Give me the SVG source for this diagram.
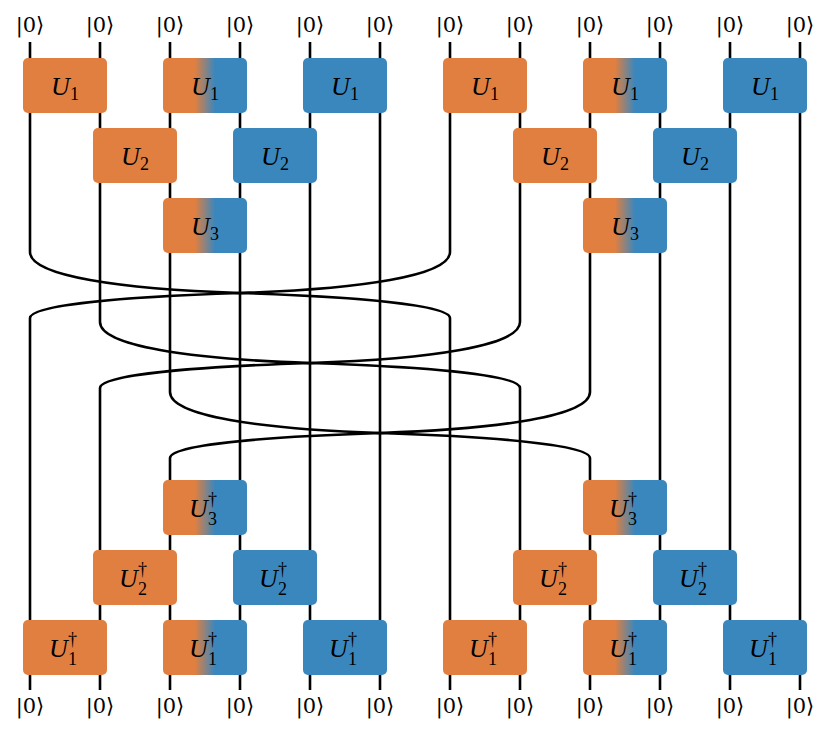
<svg xmlns="http://www.w3.org/2000/svg" width="831" height="735" viewBox="0 0 831 735">
<defs>
<linearGradient id="g" x1="0" x2="1" y1="0" y2="0"><stop offset="0.38" stop-color="#E07F40"/><stop offset="0.62" stop-color="#3A87BE"/></linearGradient>
<style>
.w{stroke:#000;stroke-width:2.6;fill:none}
.o{fill:#E07F40}.b{fill:#3A87BE}.m{fill:url(#g)}
.l{font-family:'Liberation Serif','DejaVu Serif',serif;font-style:italic;font-size:26px;text-anchor:middle}
.s{font-style:normal;font-size:18px}
.k{font-family:'DejaVu Serif',serif;font-size:21px;text-anchor:middle}
</style>
</defs>
<rect width="831" height="735" fill="#fff"/>
<g id="connectors">
<path class="w" d="M30,42V252C30,276 120,289 240,293C360,289 450,276 450,252V42"/>
<path class="w" d="M30,690V318C30,305 120,297 240,293C360,297 450,305 450,318V690"/>
<path class="w" d="M100,42V322C100,346 190,359 310,363C430,359 520,346 520,322V42"/>
<path class="w" d="M100,690V388C100,375 190,367 310,363C430,367 520,375 520,388V690"/>
<path class="w" d="M170,42V392C170,416 260,429 380,433C500,429 590,416 590,392V42"/>
<path class="w" d="M170,690V458C170,445 260,437 380,433C500,437 590,445 590,458V690"/>
<path class="w" d="M240,42V690M310,42V690M380,42V690M660,42V690M730,42V690M800,42V690"/>
</g>
<g id="labels">
<text class="k" x="30" y="32">|0⟩</text><text class="k" x="100" y="32">|0⟩</text><text class="k" x="170" y="32">|0⟩</text><text class="k" x="240" y="32">|0⟩</text><text class="k" x="310" y="32">|0⟩</text><text class="k" x="380" y="32">|0⟩</text><text class="k" x="450" y="32">|0⟩</text><text class="k" x="520" y="32">|0⟩</text><text class="k" x="590" y="32">|0⟩</text><text class="k" x="660" y="32">|0⟩</text><text class="k" x="730" y="32">|0⟩</text><text class="k" x="800" y="32">|0⟩</text>
<text class="k" x="30" y="713">|0⟩</text><text class="k" x="100" y="713">|0⟩</text><text class="k" x="170" y="713">|0⟩</text><text class="k" x="240" y="713">|0⟩</text><text class="k" x="310" y="713">|0⟩</text><text class="k" x="380" y="713">|0⟩</text><text class="k" x="450" y="713">|0⟩</text><text class="k" x="520" y="713">|0⟩</text><text class="k" x="590" y="713">|0⟩</text><text class="k" x="660" y="713">|0⟩</text><text class="k" x="730" y="713">|0⟩</text><text class="k" x="800" y="713">|0⟩</text>
</g>
<g id="g1a"><rect class="o" x="23" y="58" width="84" height="55" rx="5"/><text class="l" x="65" y="95">U<tspan class="s" dy="5">1</tspan></text></g>
<g id="g1b"><rect class="m" x="163" y="58" width="84" height="55" rx="5"/><text class="l" x="205" y="95">U<tspan class="s" dy="5">1</tspan></text></g>
<g id="g1c"><rect class="b" x="303" y="58" width="84" height="55" rx="5"/><text class="l" x="345" y="95">U<tspan class="s" dy="5">1</tspan></text></g>
<g id="g1d"><rect class="o" x="443" y="58" width="84" height="55" rx="5"/><text class="l" x="485" y="95">U<tspan class="s" dy="5">1</tspan></text></g>
<g id="g1e"><rect class="m" x="583" y="58" width="84" height="55" rx="5"/><text class="l" x="625" y="95">U<tspan class="s" dy="5">1</tspan></text></g>
<g id="g1f"><rect class="b" x="723" y="58" width="84" height="55" rx="5"/><text class="l" x="765" y="95">U<tspan class="s" dy="5">1</tspan></text></g>
<g id="g2a"><rect class="o" x="93" y="128" width="84" height="55" rx="5"/><text class="l" x="135" y="165">U<tspan class="s" dy="5">2</tspan></text></g>
<g id="g2b"><rect class="b" x="233" y="128" width="84" height="55" rx="5"/><text class="l" x="275" y="165">U<tspan class="s" dy="5">2</tspan></text></g>
<g id="g2c"><rect class="o" x="513" y="128" width="84" height="55" rx="5"/><text class="l" x="555" y="165">U<tspan class="s" dy="5">2</tspan></text></g>
<g id="g2d"><rect class="b" x="653" y="128" width="84" height="55" rx="5"/><text class="l" x="695" y="165">U<tspan class="s" dy="5">2</tspan></text></g>
<g id="g3a"><rect class="m" x="163" y="198" width="84" height="55" rx="5"/><text class="l" x="205" y="235">U<tspan class="s" dy="5">3</tspan></text></g>
<g id="g3b"><rect class="m" x="583" y="198" width="84" height="55" rx="5"/><text class="l" x="625" y="235">U<tspan class="s" dy="5">3</tspan></text></g>
<g id="d3a"><rect class="m" x="163" y="480" width="84" height="55" rx="5"/><text class="l" x="203" y="517">U<tspan class="s" dy="8">3</tspan><tspan class="s" dx="-9" dy="-20">†</tspan></text></g>
<g id="d3b"><rect class="m" x="583" y="480" width="84" height="55" rx="5"/><text class="l" x="623" y="517">U<tspan class="s" dy="8">3</tspan><tspan class="s" dx="-9" dy="-20">†</tspan></text></g>
<g id="d2a"><rect class="o" x="93" y="550" width="84" height="55" rx="5"/><text class="l" x="133" y="587">U<tspan class="s" dy="8">2</tspan><tspan class="s" dx="-9" dy="-20">†</tspan></text></g>
<g id="d2b"><rect class="b" x="233" y="550" width="84" height="55" rx="5"/><text class="l" x="273" y="587">U<tspan class="s" dy="8">2</tspan><tspan class="s" dx="-9" dy="-20">†</tspan></text></g>
<g id="d2c"><rect class="o" x="513" y="550" width="84" height="55" rx="5"/><text class="l" x="553" y="587">U<tspan class="s" dy="8">2</tspan><tspan class="s" dx="-9" dy="-20">†</tspan></text></g>
<g id="d2d"><rect class="b" x="653" y="550" width="84" height="55" rx="5"/><text class="l" x="693" y="587">U<tspan class="s" dy="8">2</tspan><tspan class="s" dx="-9" dy="-20">†</tspan></text></g>
<g id="d1a"><rect class="o" x="23" y="620" width="84" height="55" rx="5"/><text class="l" x="63" y="657">U<tspan class="s" dy="8">1</tspan><tspan class="s" dx="-9" dy="-20">†</tspan></text></g>
<g id="d1b"><rect class="m" x="163" y="620" width="84" height="55" rx="5"/><text class="l" x="203" y="657">U<tspan class="s" dy="8">1</tspan><tspan class="s" dx="-9" dy="-20">†</tspan></text></g>
<g id="d1c"><rect class="b" x="303" y="620" width="84" height="55" rx="5"/><text class="l" x="343" y="657">U<tspan class="s" dy="8">1</tspan><tspan class="s" dx="-9" dy="-20">†</tspan></text></g>
<g id="d1d"><rect class="o" x="443" y="620" width="84" height="55" rx="5"/><text class="l" x="483" y="657">U<tspan class="s" dy="8">1</tspan><tspan class="s" dx="-9" dy="-20">†</tspan></text></g>
<g id="d1e"><rect class="m" x="583" y="620" width="84" height="55" rx="5"/><text class="l" x="623" y="657">U<tspan class="s" dy="8">1</tspan><tspan class="s" dx="-9" dy="-20">†</tspan></text></g>
<g id="d1f"><rect class="b" x="723" y="620" width="84" height="55" rx="5"/><text class="l" x="763" y="657">U<tspan class="s" dy="8">1</tspan><tspan class="s" dx="-9" dy="-20">†</tspan></text></g>
</svg>
